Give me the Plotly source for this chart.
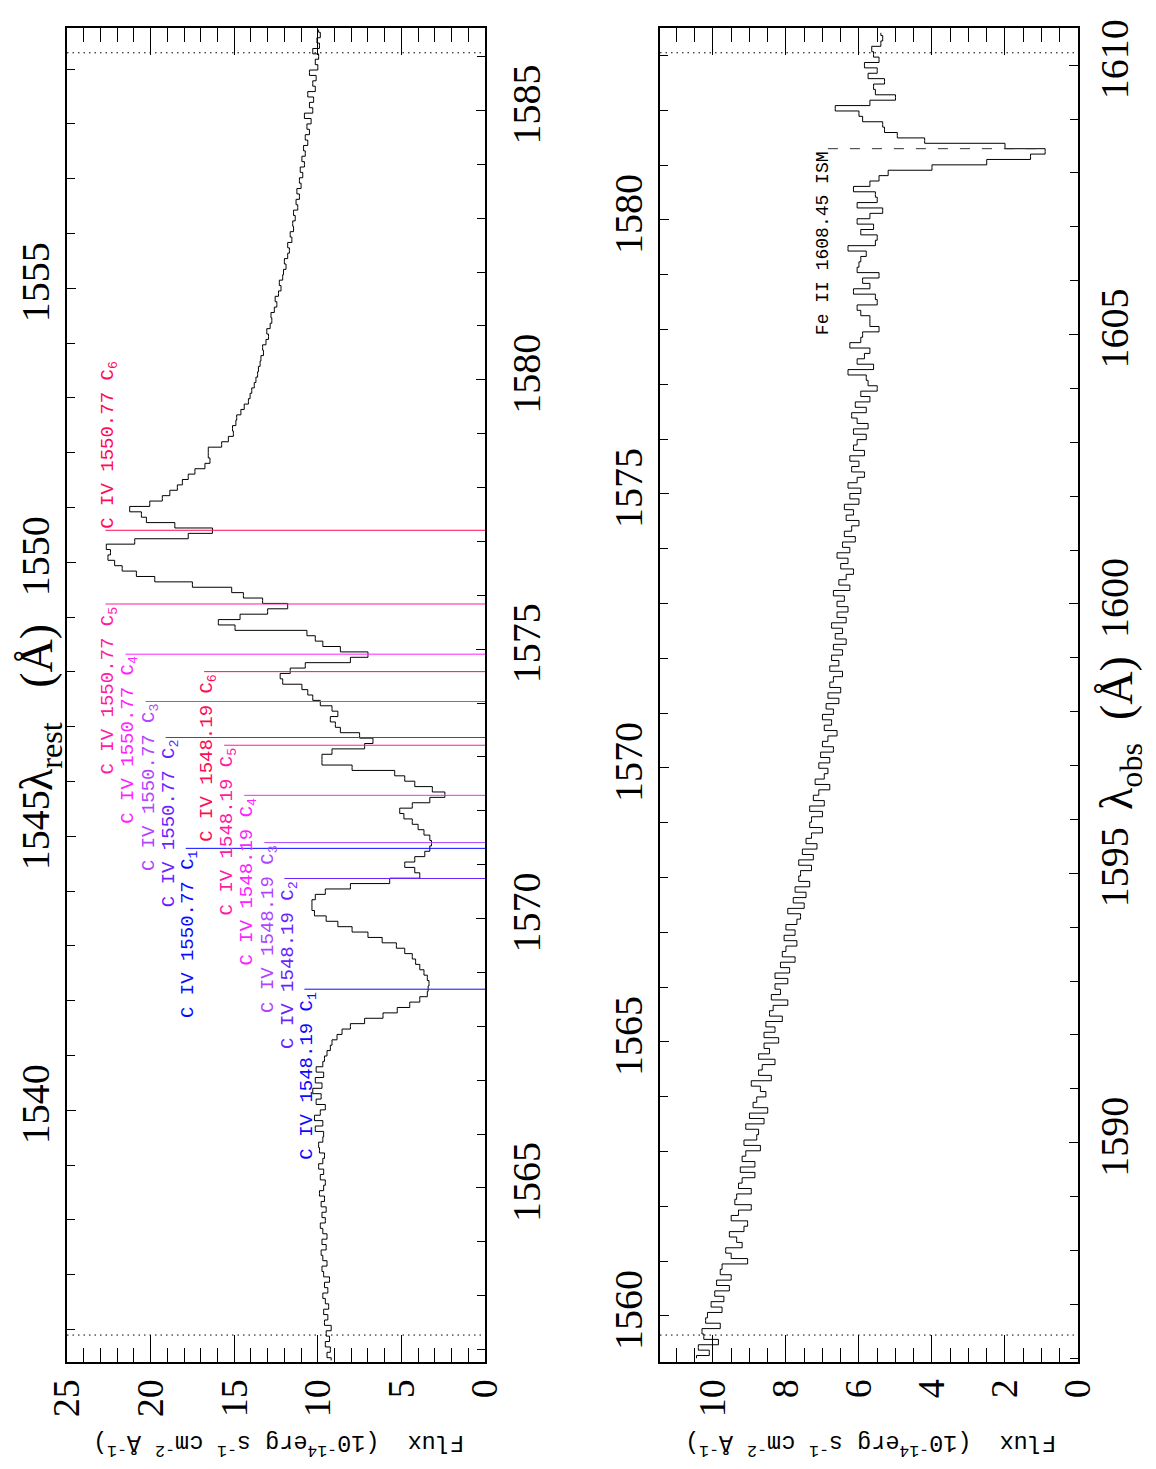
import numpy as np
import plotly.graph_objects as go

Z = 0.01717
C_KMS = 299792.458

# ---------------- data ----------------
# panel 1 : observed wavelength bin centres (A, 0.1 A bins) and flux (1e-14 erg/s/cm2/A)
wave_obs_1 = np.round(np.arange(1561.8, 1586.55, 0.1), 2)
flux_1 = [
    # 1561.8 - 1567.4
    9.2, 9.45, 9.25, 9.55, 9.3, 9.5, 9.2, 9.6, 9.4, 9.65,
    9.35, 9.55, 9.7, 9.4, 9.6, 9.3, 9.65, 9.75, 9.45, 9.7,
    9.8, 9.5, 9.75, 9.45, 9.7, 9.85, 9.55, 9.75, 9.5, 9.8,
    9.6, 9.9, 9.65, 9.55, 9.85, 9.65, 9.95, 9.7, 9.6, 9.9,
    9.95, 9.7, 9.65, 10.15, 9.7, 10.2, 9.85, 9.55, 10.1, 9.8,
    10.3, 9.75, 10.15, 9.65, 10.1, 9.7, 9.6,
    # 1567.5 - 1580.0
    9.45, 9.25, 9.15, 8.85, 8.55,
    8.05, 7.2, 6.1, 5.25, 4.5, 3.9, 3.45, 3.4, 3.35, 3.45,
    3.65, 3.9, 4.15, 4.35, 4.8, 5.3, 6.15, 7.0, 7.95, 8.8,
    9.5, 10.2, 10.35, 10.35, 10.15, 9.55, 8.05, 5.7, 3.9, 4.2,
    4.8, 4.2, 3.6, 3.3, 3.2, 3.3, 3.65, 4.0, 4.35, 4.85,
    5.1, 4.35, 3.3, 2.4, 3.15, 4.2, 4.8, 5.4, 7.95, 9.75,
    9.75, 9.15, 7.2, 6.7, 7.5, 8.65, 8.95, 9.25, 8.8, 9.15,
    9.85, 10.3, 10.6, 10.95, 12.1, 12.25, 11.65, 10.75, 8.05, 7.0,
    8.65, 9.7, 10.15, 10.65, 14.95, 15.95, 14.65, 13.0, 11.8, 13.3,
    14.45, 15.15, 17.5, 19.75, 20.85, 21.7, 22.15, 22.55, 22.4, 22.65,
    20.95, 17.75, 16.3, 18.55, 20.25, 20.55, 21.25, 20.05, 19.3, 18.85,
    18.4, 18.1, 17.75, 17.35, 16.75, 16.45, 16.55, 16.55, 15.75, 15.35,
    15.05, 15.1, 14.9, 14.85, 14.6, 14.4, 14.15, 14.05, 13.95, 13.8,
    13.7,
    # 1580.1 - 1586.5
    13.6, 13.55, 13.45, 13.4, 13.25, 13.3, 13.1, 12.95, 13.05,
    12.85, 12.75, 12.8, 12.6, 12.45, 12.55, 12.35, 12.2, 12.3, 12.1,
    12.05, 11.9, 12.0, 11.8, 11.7, 11.8, 11.55, 11.65, 11.45, 11.5,
    11.35, 11.45, 11.2, 11.3, 11.1, 11.25, 11.0, 11.1, 10.9, 11.05,
    10.8, 10.95, 10.75, 10.85, 10.6, 10.75, 10.5, 10.65, 10.4, 10.8,
    10.3, 10.5, 10.25, 10.6, 10.15, 10.3, 10.1, 10.5, 10.0, 10.15,
    9.95, 10.3, 9.9, 10.05, 9.85, 9.95,
]

# panel 2
wave_obs_2 = np.round(np.arange(1586.0, 1610.65, 0.1), 2)
flux_2 = [
    10.45, 10.1, 10.4, 9.85, 10.25, 10.3, 9.8, 10.2, 10.15, 9.75,
    10.05, 9.7, 9.95, 9.55, 9.9, 9.5, 9.8, 9.75, 9.05, 9.5,
    9.65, 9.2, 9.35, 9.55, 9.15, 9.05, 9.5, 9.3, 8.95, 9.4,
    9.35, 8.95, 9.3, 9.2, 8.85, 9.25, 8.85, 9.2, 9.1, 8.7,
    9.15, 8.8, 8.75, 9.1, 8.6, 9.0, 8.5, 8.9, 8.8, 8.55,
    8.7, 8.95, 8.4, 8.75, 8.65, 8.3, 8.75, 8.45, 8.6, 8.2,
    8.6, 8.3, 8.55, 8.1, 8.45, 8.35, 7.95, 8.4, 8.15, 8.3,
    7.95, 8.3, 7.9, 8.15, 7.75, 8.1, 8.0, 7.7, 8.05, 7.75,
    8.0, 7.7, 7.6, 7.95, 7.5, 7.8, 7.45, 7.75, 7.35, 7.65,
    7.6, 7.3, 7.65, 7.25, 7.55, 7.15, 7.45, 7.3, 7.0, 7.35,
    7.3, 7.0, 7.35, 6.95, 7.25, 7.1, 6.8, 7.2, 6.95, 6.85,
    7.1, 6.8, 7.05, 6.7, 7.0, 6.85, 6.6, 6.95, 6.75, 7.0,
    6.7, 6.9, 6.55, 6.85, 6.5, 6.8, 6.7, 6.45, 6.8, 6.55,
    6.75, 6.45, 6.7, 6.35, 6.65, 6.45, 6.75, 6.35, 6.6, 6.3,
    6.6, 6.4, 6.7, 6.25, 6.55, 6.35, 6.15, 6.5, 6.3, 6.6,
    6.25, 6.45, 6.1, 6.4, 6.2, 6.0, 6.35, 6.15, 6.4, 6.0,
    6.25, 5.95, 6.3, 6.05, 5.85, 6.2, 6.0, 6.25, 5.85, 6.15,
    6.05, 5.8, 6.15, 5.75, 6.05, 6.2, 5.8, 6.1, 5.7, 5.95,
    5.5, 5.75, 5.8, 6.3, 5.6, 6.05, 5.85, 5.7, 6.25, 5.95,
    5.9, 5.45, 5.7, 5.7, 5.95, 6.05, 5.5, 5.55, 6.15, 5.7,
    5.9, 5.45, 6.05, 6.0, 5.95, 5.8, 6.3, 5.55, 5.5, 5.95,
    5.6, 6.05, 5.7, 5.35, 6.05, 5.5, 5.55, 6.15, 5.7, 5.45,
    5.2, 4.0, 2.5, 1.3, 0.9, 2.0, 4.2, 4.95, 5.3, 5.35,
    5.9, 6.0, 6.65, 5.7, 5.0, 5.55, 5.6, 5.3, 5.75, 5.5,
    5.85, 5.45, 5.6, 5.65, 5.4, 5.35, 5.4,
]

range_obs_1 = [1561.77, 1586.53]
range_obs_2 = [1585.93, 1610.69]
overlap_marks_1 = [1562.27, 1586.07]
overlap_marks_2 = [1586.43, 1610.23]
flux_range_1 = [25, 0]
flux_range_2 = [11.45, 0]

# C IV absorption components
civ_rest = [1548.19, 1550.77]
comp_ids = [1, 2, 3, 4, 5, 6]
comp_vel = [-1158, -767, -640, -473, -296, -36]           # km/s
comp_colors = ["#0a0aff", "#6a22ff", "#b044ff", "#ff22ff", "#ff1aa6", "#ff0a55"]
label_flux_1548 = [10.8, 12.0, 13.2, 14.4, 15.6, 16.8]
label_flux_1550 = [17.9, 19.1, 20.3, 21.5, 22.7, 22.7]
label_anchor_1550 = ["top", "top", "top", "top", "top", "bottom"]

# ISM line
ism_wave = 1608.45
ism_text = "Fe II 1608.45 ISM"
ism_flux_span = [6.85, 1.05]

# ---------------- figure ----------------
n1 = min(len(wave_obs_1), len(flux_1))
n2 = min(len(wave_obs_2), len(flux_2))

W, H = 1156, 1469
def px(xp): return xp / W
def py(yp): return 1 - yp / H

dom_x1 = [px(67), px(485)]
dom_x2 = [px(660), px(1078)]
dom_y = [py(1362), py(28)]

SERIF = "Liberation Serif, Times New Roman, serif"
MONO = "Liberation Mono, Courier New, monospace"

fig = go.Figure()

fig.add_trace(go.Scatter(x=flux_1[:n1], y=wave_obs_1[:n1], mode="lines",
                         line=dict(color="black", width=1, shape="vhv"),
                         xaxis="x", yaxis="y", showlegend=False, hoverinfo="skip"))
fig.add_trace(go.Scatter(x=flux_2[:n2], y=wave_obs_2[:n2], mode="lines",
                         line=dict(color="black", width=1, shape="vhv"),
                         xaxis="x2", yaxis="y3", showlegend=False, hoverinfo="skip"))
# dummy traces to activate rest-frame axes
fig.add_trace(go.Scatter(x=[None], y=[None], xaxis="x", yaxis="y2", showlegend=False))
fig.add_trace(go.Scatter(x=[None], y=[None], xaxis="x2", yaxis="y4", showlegend=False))

# dotted overlap markers
for m in overlap_marks_1:
    fig.add_trace(go.Scatter(x=flux_range_1, y=[m, m], mode="lines",
                             line=dict(color="black", width=1, dash="1.5px,4px"),
                             xaxis="x", yaxis="y", showlegend=False, hoverinfo="skip"))
for m in overlap_marks_2:
    fig.add_trace(go.Scatter(x=flux_range_2, y=[m, m], mode="lines",
                             line=dict(color="black", width=1, dash="1.5px,4px"),
                             xaxis="x2", yaxis="y3", showlegend=False, hoverinfo="skip"))

annotations = []
for li, rest in enumerate(civ_rest):
    for ci, cid in enumerate(comp_ids):
        w = rest * (1 + Z) * (1 + comp_vel[ci] / C_KMS)
        f0 = label_flux_1548[ci] if li == 0 else label_flux_1550[ci]
        anch = "top" if li == 0 else label_anchor_1550[ci]
        fig.add_trace(go.Scatter(x=[f0, 0], y=[w, w], mode="lines",
                                 line=dict(color=comp_colors[ci], width=1),
                                 xaxis="x", yaxis="y", showlegend=False, hoverinfo="skip"))
        annotations.append(dict(
            x=f0 - 0.24, y=w, xref="x", yref="y", showarrow=False,
            text=f"C IV {rest:.2f} C<sub>{cid}</sub>", textangle=-90,
            xanchor="center", yanchor=anch,
            font=dict(family=MONO, size=19, color=comp_colors[ci])))

# ISM line
fig.add_trace(go.Scatter(x=ism_flux_span, y=[ism_wave, ism_wave], mode="lines",
                         line=dict(color="#333333", width=1, dash="10px,12px"),
                         xaxis="x2", yaxis="y3", showlegend=False, hoverinfo="skip"))
annotations.append(dict(x=ism_flux_span[0] + 0.15, y=ism_wave, xref="x2", yref="y3",
                        showarrow=False, text=ism_text, textangle=-90,
                        xanchor="center", yanchor="top",
                        font=dict(family=MONO, size=18, color="black")))

# axis titles
annotations.append(dict(x=px(40), y=py(708), xref="paper", yref="paper", showarrow=False,
                        xanchor="center", yanchor="middle",
                        text="λ<sub>rest</sub>   (Å)", textangle=-90,
                        font=dict(family=SERIF, size=46, color="black")))
annotations.append(dict(x=px(1120), y=py(733), xref="paper", yref="paper", showarrow=False,
                        xanchor="center", yanchor="middle",
                        text="λ<sub>obs</sub>  (Å)", textangle=-90,
                        font=dict(family=SERIF, size=46, color="black")))
flux_title = "Flux  (10<sup>-14</sup>erg s<sup>-1</sup> cm<sup>-2</sup> Å<sup>-1</sup>)"
for xc in (279, 871):
    annotations.append(dict(x=px(xc), y=py(1445), xref="paper", yref="paper", showarrow=False,
                            xanchor="center", yanchor="middle",
                            text=flux_title, textangle=180,
                            font=dict(family=MONO, size=23.5, color="black")))

flux_tickfont = dict(family=SERIF, size=38, color="black")
wave_tickfont = dict(family=SERIF, size=40, color="black")
common_flux = dict(showgrid=False, zeroline=False, ticks="inside", ticklen=27, tickwidth=1.2,
                   tickcolor="black", showline=True, linewidth=2, linecolor="black",
                   mirror="ticks", tickangle=-90, tickfont=flux_tickfont, ticklabelstandoff=0,
                   automargin=False)
common_wave = dict(showgrid=False, zeroline=False, ticks="inside", ticklen=9, tickwidth=1.2,
                   tickcolor="black", showline=True, linewidth=2, linecolor="black",
                   tickangle=-90, tickfont=wave_tickfont, dtick=5, tick0=1500,
                   automargin=False,
                   minor=dict(dtick=1, ticks="inside", ticklen=8, tickcolor="black", tickwidth=1.2))

fig.update_layout(
    width=W, height=H, autosize=False,
    margin=dict(l=0, r=0, t=0, b=0, pad=0),
    paper_bgcolor="white", plot_bgcolor="white",
    showlegend=False,
    xaxis=dict(domain=dom_x1, range=flux_range_1, anchor="y", dtick=5, tick0=0,
               minor=dict(dtick=1, ticks="inside", ticklen=14, tickcolor="black", tickwidth=1.2),
               **common_flux),
    xaxis2=dict(domain=dom_x2, range=flux_range_2, anchor="y3", dtick=2, tick0=0,
                minor=dict(dtick=0.5, ticks="inside", ticklen=14, tickcolor="black", tickwidth=1.2),
                **common_flux),
    yaxis=dict(domain=dom_y, range=range_obs_1, anchor="x", side="right",
               ticklabelstandoff=5, **common_wave),
    yaxis2=dict(range=[r / (1 + Z) for r in range_obs_1], overlaying="y", anchor="x",
                side="left", ticklabelstandoff=0, **common_wave),
    yaxis3=dict(domain=dom_y, range=range_obs_2, anchor="x2", side="right",
                ticklabelstandoff=0, **common_wave),
    yaxis4=dict(range=[r / (1 + Z) for r in range_obs_2], overlaying="y3", anchor="x2",
                side="left", ticklabelstandoff=0, **common_wave),
    annotations=annotations,
)

fig.write_html("out.html")
